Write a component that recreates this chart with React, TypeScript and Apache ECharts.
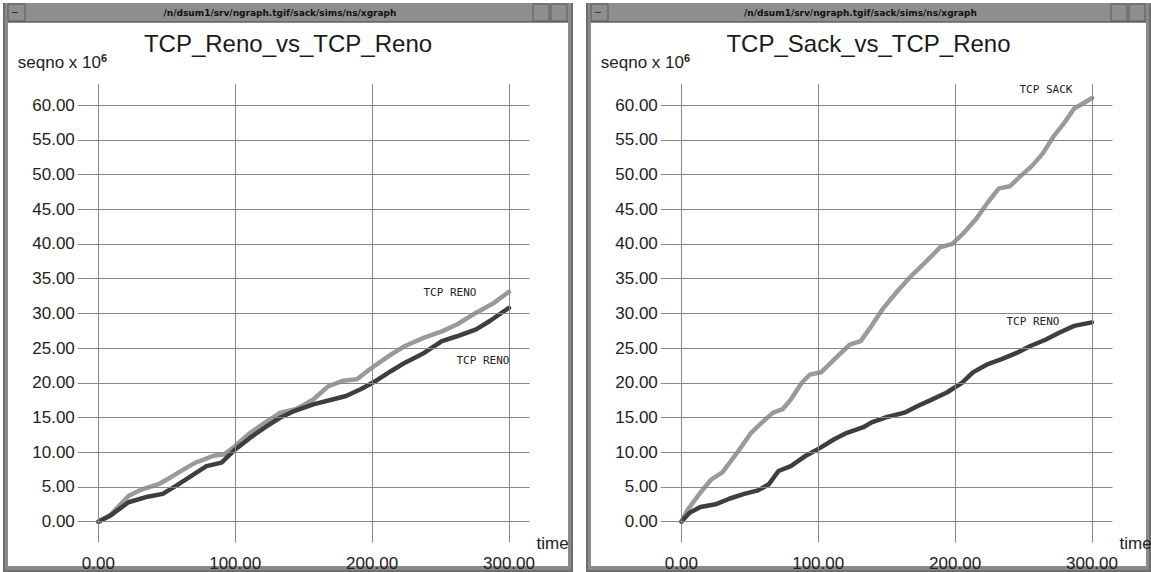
import React, { useEffect, useRef } from "react";
import * as echarts from "echarts";

// Sequence number (x 10^6) against simulation time, one window per experiment.
const xTicks = [0, 100, 200, 300];
const yTicks = [0, 5, 10, 15, 20, 25, 30, 35, 40, 45, 50, 55, 60];

const panelTitles = ["TCP_Reno_vs_TCP_Reno", "TCP_Sack_vs_TCP_Reno"];
const windowCaption = "/n/dsum1/srv/ngraph.tgif/sack/sims/ns/xgraph";

// Left window: two Reno connections sharing the link
const renoFirst: number[][] = [
  [0, 0], [9, 1.0], [22, 3.7], [30, 4.5], [36, 4.9], [44, 5.4], [52, 6.3], [63, 7.6],
  [71, 8.5], [78, 9.0], [84, 9.5], [92, 9.7], [100, 10.9], [111, 12.8], [122, 14.3],
  [133, 15.7], [144, 16.2], [150, 16.8], [157, 17.6], [168, 19.5], [179, 20.3],
  [189, 20.5], [198, 21.9], [206, 23.0], [214, 24.1], [224, 25.3], [238, 26.5],
  [251, 27.4], [262, 28.4], [276, 30.1], [289, 31.5], [300, 33.1],
];
const renoSecond: number[][] = [
  [0, 0], [9, 0.9], [22, 2.8], [36, 3.6], [47, 4.0], [57, 5.2], [68, 6.6], [79, 8.0],
  [90, 8.5], [100, 10.4], [111, 12.1], [122, 13.6], [133, 15.0], [144, 16.0],
  [157, 16.9], [171, 17.6], [181, 18.1], [192, 19.1], [203, 20.3], [214, 21.7],
  [224, 22.9], [238, 24.3], [251, 26.0], [262, 26.7], [276, 27.7], [286, 28.9],
  [300, 30.8],
];

// Right window: a Sack connection against a Reno connection
const sackFlow: number[][] = [
  [0, 0], [5, 1.8], [14, 4.2], [22, 6.1], [30, 7.1], [41, 10.0], [51, 12.8], [59, 14.3],
  [67, 15.7], [74, 16.2], [80, 17.6], [88, 20.0], [94, 21.2], [102, 21.5], [112, 23.4],
  [123, 25.5], [131, 26.0], [139, 28.2], [147, 30.6], [157, 33.0], [168, 35.4],
  [178, 37.3], [189, 39.5], [198, 40.0], [206, 41.5], [215, 43.5], [224, 46.0],
  [232, 48.0], [240, 48.3], [248, 49.8], [256, 51.2], [264, 53.0], [272, 55.5],
  [280, 57.5], [287, 59.5], [294, 60.3], [300, 61.0],
];
const renoFlow: number[][] = [
  [0, 0], [6, 1.3], [14, 2.1], [25, 2.5], [35, 3.3], [46, 4.0], [56, 4.5], [64, 5.4],
  [71, 7.3], [80, 8.0], [91, 9.5], [102, 10.7], [112, 11.9], [121, 12.8], [133, 13.6],
  [139, 14.3], [149, 15.0], [163, 15.7], [173, 16.7], [181, 17.4], [194, 18.6],
  [205, 20.0], [213, 21.5], [224, 22.7], [234, 23.4], [245, 24.3], [255, 25.3],
  [266, 26.2], [276, 27.2], [287, 28.2], [300, 28.7],
];

const LIGHT = "#9a9a9a";
const DARK = "#3e3e3e";
const GRID_LINE = "#888888";
const TEXT = "#222";
const SANS = '"Liberation Sans", Arial, sans-serif';
const MONO = '"DejaVu Sans Mono", monospace';

// window frames: [left, right]
const windows = [
  [3, 573],
  [586, 1151],
];
const plotLeft = [77.8, 660.8];
const plotTop = 84.2;
const plotWidth = 451.7;
const plotHeight = 458.3;

function windowChrome(x0: number, x1: number, title: string): any[] {
  const w = x1 - x0;
  return [
    { type: "rect", shape: { x: x0, y: 3, width: w, height: 569 }, style: { fill: "#6e6e6e" } },
    { type: "rect", shape: { x: x0 + 2, y: 3, width: w - 4, height: 567 }, style: { fill: "#8a8a8a" } },
    { type: "rect", shape: { x: x0 + 5, y: 23, width: w - 10, height: 543 }, style: { fill: "#ffffff" } },
    { type: "rect", shape: { x: x0 + 5, y: 4, width: w - 10, height: 17 }, style: { fill: "#8e8e8e" } },
    { type: "line", shape: { x1: x0 + 5, y1: 21.5, x2: x1 - 5, y2: 21.5 }, style: { stroke: "#6a6a6a", lineWidth: 1 } },
    { type: "rect", shape: { x: x0 + 5, y: 4, width: 17, height: 17 }, style: { fill: "#8e8e8e", stroke: "#5c5c5c", lineWidth: 1 } },
    { type: "line", shape: { x1: x0 + 9, y1: 12.5, x2: x0 + 15, y2: 12.5 }, style: { stroke: "#333", lineWidth: 1 } },
    { type: "rect", shape: { x: x1 - 40, y: 4, width: 16, height: 17 }, style: { fill: "#8e8e8e", stroke: "#5c5c5c", lineWidth: 1 } },
    { type: "rect", shape: { x: x1 - 22, y: 4, width: 16, height: 17 }, style: { fill: "#8e8e8e", stroke: "#5c5c5c", lineWidth: 1 } },
    {
      type: "text",
      x: (x0 + x1) / 2 - 8,
      y: 12.5,
      style: {
        text: windowCaption, font: 'bold 9px "DejaVu Sans", sans-serif', fill: "#111",
        align: "center", verticalAlign: "middle", textAlign: "center", textVerticalAlign: "middle",
      },
    },
    {
      type: "text",
      x: (x0 + x1) / 2,
      y: 43,
      style: {
        text: title, font: `24px ${SANS}`, fill: "#1a1a1a",
        align: "center", verticalAlign: "middle", textAlign: "center", textVerticalAlign: "middle",
      },
    },
  ];
}

function axisNames(plotX: number): any[] {
  return [
    {
      type: "text",
      x: plotX - 60,
      y: 62,
      style: {
        text: "{a|seqno x 10}{s|6}",
        rich: {
          a: { font: `17px ${SANS}`, fill: TEXT },
          s: { font: `bold 11px ${SANS}`, fill: TEXT, padding: [0, 0, 9, 0] },
        },
        verticalAlign: "middle", textVerticalAlign: "middle",
      },
    },
    {
      type: "text",
      x: plotX + plotWidth + 7,
      y: 543,
      style: {
        text: "time", font: `17px ${SANS}`, fill: TEXT,
        verticalAlign: "middle", textVerticalAlign: "middle",
      },
    },
  ];
}

function gridSeries(i: number): any {
  return {
    type: "line",
    xAxisIndex: i,
    yAxisIndex: i,
    data: [],
    z: 1,
    silent: true,
    markLine: {
      silent: true,
      animation: false,
      symbol: ["none", "none"],
      lineStyle: { color: GRID_LINE, width: 1, type: "solid" },
      emphasis: { disabled: true },
      label: {
        show: true,
        color: TEXT,
        fontFamily: SANS,
        fontSize: 17,
        formatter: (p: any) => Number(p.value).toFixed(2),
      },
      data: [
        ...xTicks.map((v) => ({ xAxis: v, label: { position: "start", distance: 12 } })),
        ...yTicks.map((v) => ({ yAxis: v, label: { position: "start", distance: 3 } })),
      ],
    },
  };
}

function flowSeries(i: number, name: string, data: number[][], color: string, offset: number[]): any {
  const last = data[data.length - 1];
  return {
    type: "line",
    name,
    xAxisIndex: i,
    yAxisIndex: i,
    data,
    z: 3,
    symbol: "none",
    showSymbol: false,
    lineStyle: { color, width: 4.5, cap: "round", join: "round" },
    emphasis: { disabled: true },
    markPoint: {
      silent: true,
      animation: false,
      symbol: "circle",
      symbolSize: 1,
      itemStyle: { color: "rgba(0,0,0,0)" },
      label: {
        show: true,
        position: "inside",
        offset,
        color: TEXT,
        fontFamily: MONO,
        fontSize: 11,
        formatter: () => name,
      },
      data: [{ coord: last }],
    },
  };
}

export default function App() {
  const ref = useRef<HTMLDivElement>(null);

  useEffect(() => {
    if (!ref.current) return;
    const chart = echarts.init(ref.current, undefined, { renderer: "svg" });

    const hiddenAxis = {
      axisLine: { show: false },
      axisTick: { show: false },
      axisLabel: { show: false },
      splitLine: { show: false },
    };

    chart.setOption({
      animation: false,
      backgroundColor: "#ffffff",
      graphic: {
        elements: [
          ...windowChrome(windows[0][0], windows[0][1], panelTitles[0]),
          ...windowChrome(windows[1][0], windows[1][1], panelTitles[1]),
          ...axisNames(plotLeft[0]),
          ...axisNames(plotLeft[1]),
        ],
      },
      grid: plotLeft.map((left) => ({
        left,
        top: plotTop,
        width: plotWidth,
        height: plotHeight,
        containLabel: false,
      })),
      xAxis: [0, 1].map((i) => ({ type: "value", gridIndex: i, min: -15, max: 315, ...hiddenAxis })),
      yAxis: [0, 1].map((i) => ({ type: "value", gridIndex: i, min: -3, max: 63, ...hiddenAxis })),
      series: [
        gridSeries(0),
        gridSeries(1),
        flowSeries(0, "TCP RENO", renoFirst, LIGHT, [-59, 1]),
        flowSeries(0, "TCP RENO", renoSecond, DARK, [-26, 53]),
        flowSeries(1, "TCP SACK", sackFlow, LIGHT, [-46, -9]),
        flowSeries(1, "TCP RENO", renoFlow, DARK, [-59, -1]),
      ],
    });

    return () => chart.dispose();
  }, []);

  return (
    <div
      ref={ref}
      style={{ position: "absolute", left: 0, top: 0, width: 1151, height: 572 }}
    />
  );
}
